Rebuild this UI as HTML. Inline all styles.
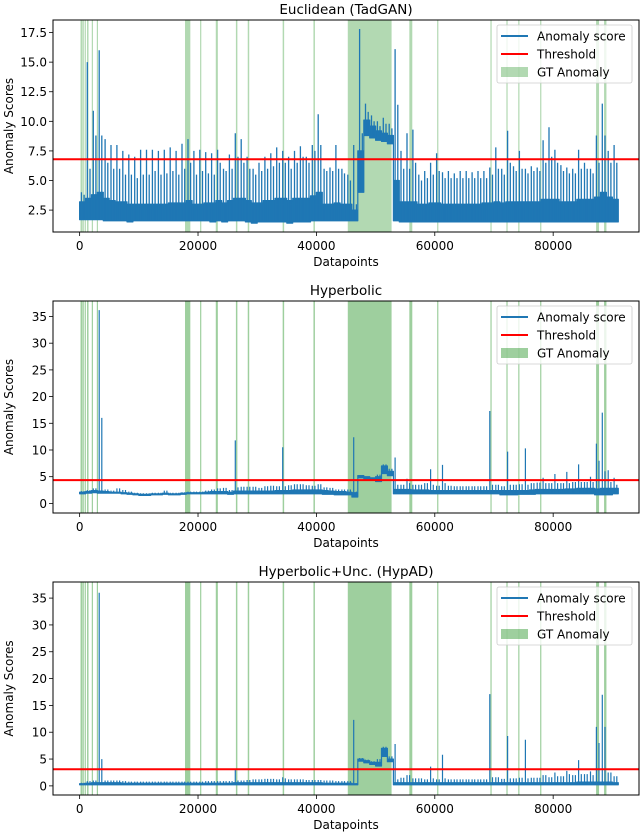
<!DOCTYPE html>
<html><head><meta charset="utf-8">
<style>
html,body{margin:0;padding:0;background:#fff;}
svg{display:block;font-family:"DejaVu Sans","Liberation Sans",sans-serif;}
</style></head>
<body>
<svg id="fig" width="640" height="833" viewBox="0 0 640 833" xmlns="http://www.w3.org/2000/svg"></svg>
<script>
// ---------- data ----------
const gtSpans = [[150,450],[500,700],[850,1050],[1250,1500],[2050,2250],[2900,3100],[17800,18700],[20350,20550],[23000,23350],[26400,26650],[28400,28650],[34300,34550],[39500,39750],[45300,52700],[55700,56200],[60400,60600],[69400,69600],[72100,72300],[74100,74300],[77800,78000],[87250,87750],[88600,89000]];
const thresholds = [6.8, 4.36, 3.1];
const titles = ["Euclidean (TadGAN)", "Hyperbolic", "Hyperbolic+Unc. (HypAD)"];
const yTicks1 = [2.5,5.0,7.5,10.0,12.5,15.0,17.5];
const yTicks23 = [0,5,10,15,20,25,30,35];
const xTicks = [0,20000,40000,60000,80000];
// per-1000-datapoint bins (91 bins): lo, dense-band top, secondary peak, main peak
const p1Hi = [4,15,10.9,16,8.5,8,8,7.5,7.2,7,7.6,7.6,7.6,7.5,7.6,7.8,7.5,8.1,8.5,7.5,7.6,7.4,7.3,7.6,6,7.2,9,8.5,7,6,6.5,7,7.3,7.8,7.5,7,7.5,7.9,7,8,10.6,6,6.1,8,6,5.5,8,17.8,11.5,10.5,10,10.3,9.8,16.1,7.5,9,9.3,5.5,5.8,6.5,7.3,5.7,5.8,5.6,5.8,5.8,5.7,5.8,5.8,6.1,7.8,6,9.2,6.2,7.5,6,6.2,6.1,8.4,9.5,7.6,6.3,6.1,6,7.6,6.5,6,8.8,11.5,7.5,8];
const p1Sub = [3.8,6,8.8,8.8,6.5,6,6,5.5,5.5,5.2,5.5,5.5,5.8,5.5,5.6,5.8,5.5,6,6.5,5.5,5.8,5.6,5.5,6.5,5.8,6,7,6.5,6,5.5,5.8,6,6.2,6.5,6.5,6,6.5,7,6.5,7.5,8,5.8,5.8,6,5.6,5,3,9,10.8,10,9.6,9.8,9.4,11.4,6,6,6.5,5,5.2,5.5,5.8,5.2,5.2,5.2,5.2,5.2,5.2,5.2,5.2,5.5,6,5.5,6.5,5.8,6,5.6,5.8,5.8,6.5,7,6.5,5.8,5.6,5.6,6,6,5.6,6.5,8.8,6.5,6.5];
const p1Mid = [3.2,3.5,3.8,4,3.5,3.3,3.2,3.2,3,3,3,3,3,3,3,3.1,3.1,3.1,3.3,3,3,3.1,3.1,3.3,3.1,3.3,3.5,3.5,3.3,3.1,3.1,3.3,3.3,3.5,3.5,3.3,3.5,3.5,3.5,3.7,4,3,3,3.1,3,3,2.5,7.5,10.1,9.6,9.2,9,8.8,5,3.2,3.2,3.2,3,3,3.1,3.1,3,3,3,3,3,3,3,3.1,3.1,3.2,3.1,3.2,3.2,3.2,3.2,3.2,3.2,3.4,3.4,3.4,3.2,3.2,3.2,3.4,3.4,3.4,3.6,4,3.6,3.4];
const p1Lo = [1.7,1.7,1.7,1.7,1.6,1.6,1.6,1.6,1.5,1.6,1.6,1.6,1.6,1.6,1.6,1.6,1.6,1.6,1.6,1.6,1.6,1.6,1.5,1.6,1.5,1.6,1.6,1.6,1.5,1.4,1.5,1.5,1.5,1.5,1.5,1.4,1.5,1.5,1.5,1.6,1.6,1.6,1.6,1.6,1.6,1.6,1.6,4,8.8,8.6,8.4,8.3,8.1,1.6,1.5,1.5,1.5,1.5,1.5,1.5,1.5,1.5,1.5,1.5,1.5,1.5,1.5,1.5,1.5,1.5,1.5,1.5,1.5,1.5,1.5,1.5,1.5,1.5,1.5,1.5,1.5,1.5,1.5,1.5,1.5,1.5,1.5,1.5,1.5,1.5,1.5];
const p2Lo = [1.8,1.9,2,1.9,1.9,1.9,1.9,1.8,1.7,1.6,1.5,1.5,1.6,1.6,1.7,1.6,1.6,1.7,1.8,1.8,1.8,1.8,1.8,1.8,1.8,1.7,1.8,1.8,1.8,1.8,1.8,1.8,1.8,1.8,1.8,1.8,1.8,1.8,1.8,1.8,1.8,1.7,1.7,1.6,1.6,1.6,1.2,4.8,4.6,4.4,4.1,5.6,5.2,1.8,1.8,1.8,1.8,1.8,1.8,1.8,1.8,1.8,1.8,1.8,1.8,1.8,1.8,1.8,1.8,1.8,1.8,1.6,1.6,1.6,1.7,1.7,1.7,1.8,1.8,1.8,1.8,1.8,1.8,1.8,1.8,1.8,1.8,1.6,1.6,1.6,1.8];
const p2Mid = [2.1,2.2,2.4,2.3,2.2,2.1,2.1,2,1.9,1.8,1.7,1.7,1.8,1.8,1.9,1.8,1.8,1.9,2,2,2,2.1,2.2,2.2,2.2,2.1,2.3,2.3,2.3,2.3,2.3,2.3,2.3,2.4,2.4,2.4,2.5,2.5,2.5,2.5,2.5,2.4,2.3,2.2,2.2,2.1,2,5.2,5,4.8,5,7,6,2.6,2.6,2.6,2.5,2.5,2.5,2.4,2.4,2.4,2.4,2.4,2.4,2.4,2.4,2.4,2.4,2.4,2.4,2.4,2.4,2.4,2.4,2.4,2.5,2.6,2.6,2.6,2.6,2.6,2.7,2.7,2.8,2.8,2.8,2.7,2.8,2.8,2.8];
const p2Sub = [2.3,2.5,2.8,16,2.6,2.4,2.8,2.5,2.2,2,1.9,1.9,2,2,2.4,2,2,2.1,2.2,2.2,2.2,2.4,2.6,2.8,2.9,2.5,3,3.1,3.1,3.1,2.9,3.2,3.3,3.2,3.2,3.4,3.6,3.6,3.4,3.3,3.6,3,2.9,2.6,2.6,2.6,2.2,5.3,5,4.8,5.4,7.3,6.5,3.5,3.5,3.8,3.5,3.5,3.8,3.5,3.3,3.8,3.3,3.2,3.2,3.2,3.2,3.2,3.2,3.5,3.5,3.2,3.5,3.5,3.6,3.5,3.8,3.9,3.8,3.8,3.8,3.8,3.8,4,4,4,4,8,6,4,3.5];
const p2Hi = [2.3,2.5,2.8,36.2,2.6,2.4,2.8,2.5,2.2,2,1.9,1.9,2,2,2.4,2,2,2.1,2.2,2.2,2.2,2.4,2.6,2.8,2.9,2.5,11.8,3.1,3.1,3.1,2.9,3.2,3.3,3.2,10.5,3.4,3.6,3.6,3.4,3.3,3.6,3,2.9,2.6,2.6,2.6,12.4,5.3,5,4.8,5.4,7.3,6.5,8.6,3.5,4.6,3.5,3.5,3.8,6.4,3.3,7.2,3.3,3.2,3.2,3.2,3.2,3.2,3.2,17.3,3.5,3.2,9.7,3.5,3.6,10.3,3.8,3.9,4.8,3.8,5.5,3.8,5.9,4,7.3,4,5,11.2,17,6.2,4.8];
const p3Lo = [0.2,0.2,0.2,0.2,0.2,0.2,0.2,0.2,0.2,0.2,0.2,0.2,0.2,0.2,0.2,0.2,0.2,0.2,0.2,0.2,0.2,0.2,0.2,0.2,0.2,0.2,0.2,0.2,0.2,0.2,0.2,0.2,0.2,0.2,0.2,0.2,0.2,0.2,0.2,0.2,0.2,0.2,0.2,0.2,0.2,0.2,0.2,4.6,4.3,4,3.7,5.5,4.5,0.2,0.2,0.2,0.2,0.2,0.2,0.2,0.2,0.2,0.2,0.2,0.2,0.2,0.2,0.2,0.2,0.2,0.2,0.2,0.2,0.2,0.2,0.2,0.2,0.2,0.2,0.2,0.2,0.2,0.2,0.2,0.2,0.2,0.2,0.2,0.2,0.2,0.2];
const p3Mid = [0.4,0.5,0.6,0.6,0.6,0.6,0.6,0.5,0.5,0.5,0.5,0.5,0.5,0.5,0.5,0.5,0.5,0.5,0.5,0.5,0.5,0.5,0.5,0.5,0.5,0.5,0.6,0.6,0.6,0.6,0.6,0.6,0.6,0.6,0.6,0.6,0.6,0.6,0.6,0.6,0.6,0.5,0.5,0.5,0.5,0.5,0.4,5,4.7,4.4,4.4,7,5,0.6,0.6,0.6,0.6,0.6,0.6,0.6,0.6,0.6,0.6,0.6,0.6,0.6,0.6,0.6,0.6,0.6,0.6,0.6,0.6,0.6,0.6,0.6,0.6,0.6,0.6,0.6,0.6,0.6,0.6,0.6,0.7,0.7,0.7,0.7,0.7,0.7,0.6];
const p3Sub = [0.6,0.9,1,5,1,1,1,0.9,0.8,0.8,0.8,0.8,0.8,0.8,0.8,0.8,0.8,0.8,0.8,0.8,0.8,0.9,0.9,0.9,0.9,0.9,1,1,1.1,1.2,1.2,1.3,1.3,1.2,1.4,1.2,1.2,1.2,1.1,1.1,1.1,1,1,0.9,0.9,0.9,0.5,5.2,4.9,4.6,5,7.3,5.5,1.2,1.5,2,1.4,1.4,1.2,1.4,1.2,1.4,1.2,1.2,1.2,1.2,1.2,1.2,1.2,1.6,1.6,1.3,1.4,1.4,1.5,1.4,1.5,1.5,2,1.6,1.8,1.8,2.2,2,2.2,2.2,2,8,11,2.5,1.8];
const p3Hi = [0.6,0.9,1,36,1,1,1,0.9,0.8,0.8,0.8,0.8,0.8,0.8,0.8,0.8,0.8,0.8,0.8,0.8,0.8,0.9,0.9,0.9,0.9,0.9,3,1,1.1,1.2,1.2,1.3,1.3,1.2,1.6,1.2,1.2,1.2,1.1,1.1,1.1,1,1,0.9,0.9,0.9,12.3,5.2,4.9,4.6,5,7.3,5.5,7.8,1.5,2,1.4,1.4,1.2,3.6,1.2,5.8,1.2,1.2,1.2,1.2,1.2,1.2,1.2,17.1,1.6,1.3,9.3,1.4,1.5,8.6,1.5,1.5,2,1.6,2.5,1.8,2.8,2,4.8,2.2,2.7,11,17,2.5,1.8];

// ---------- drawing ----------
const NS = "http://www.w3.org/2000/svg";
const fig = document.getElementById("fig");
function mk(tag, attrs, parent, text){
  const e = document.createElementNS(NS, tag);
  for (const k in attrs) e.setAttribute(k, attrs[k]);
  if (text !== undefined) e.textContent = text;
  (parent || fig).appendChild(e);
  return e;
}
const L = 53, R = 639;
const X0 = -4500, X1 = 94500;
const xs = v => L + (v - X0) / (X1 - X0) * (R - L);

const panels = [
  {top:20, bottom:232, ymin:0.65, ymax:18.56, ticks:yTicks1, fmt:v=>v.toFixed(1), lo:p1Lo, mid:p1Mid, sub:p1Sub, hi:p1Hi, span:0.3, dense:true},
  {top:301, bottom:513, ymin:-1.8, ymax:37.9, ticks:yTicks23, fmt:v=>String(v), lo:p2Lo, mid:p2Mid, sub:p2Sub, hi:p2Hi, span:0.38, dense:false},
  {top:582, bottom:795, ymin:-1.7, ymax:38.0, ticks:yTicks23, fmt:v=>String(v), lo:p3Lo, mid:p3Mid, sub:p3Sub, hi:p3Hi, span:0.38, dense:false}
];

panels.forEach((p, pi) => {
  const ys = v => p.bottom - (v - p.ymin) / (p.ymax - p.ymin) * (p.bottom - p.top);
  const g = mk("g", {});
  
  
  const t = mk("text", {x:(L+R)/2, y:p.top-6, "text-anchor":"middle", "font-size":"13.5", fill:"#000"}, g, titles[pi]);
  
  
  const clipId = "clip" + pi;
  const cp = mk("clipPath", {id:clipId}, g);
  mk("rect", {x:L, y:p.top, width:R-L, height:p.bottom-p.top}, cp);
  const plot = mk("g", {"clip-path":"url(#"+clipId+")"}, g);
  gtSpans.forEach(s => {
    const r = mk("rect", {x:xs(s[0]), y:p.top, width:Math.max(1.2, xs(s[1])-xs(s[0])), height:p.bottom-p.top, fill:"#008000", "fill-opacity":p.span}, plot);
    
    
  });
  const binW = xs(1000) - xs(0);
  const band = mk("g", {}, plot);
  
  
  // continuous band (lo..mid) as a polygon
  let up = [], dn = [];
  p.lo.forEach((lo, i) => {
    const x0 = xs(i*1000), x1 = xs(i*1000) + binW;
    up.push(x0.toFixed(1)+","+ys(p.mid[i]).toFixed(1), x1.toFixed(1)+","+ys(p.mid[i]).toFixed(1));
    dn.unshift(x1.toFixed(1)+","+ys(lo).toFixed(1), x0.toFixed(1)+","+ys(lo).toFixed(1));
  });
  const poly = mk("polygon", {points:up.concat(dn).join(" "), fill:"#1f77b4", stroke:"#1f77b4", "stroke-width":1.2, "stroke-linejoin":"round"}, band);
  
  
  // peaks
  let d = "";
  p.lo.forEach((lo, i) => {
    const x = xs(i*1000) + binW*0.3;
    d += "M" + x.toFixed(1) + "," + ys(lo).toFixed(1) + "L" + x.toFixed(1) + "," + ys(p.hi[i]).toFixed(1);
    const x2 = xs(i*1000) + binW*0.75;
    d += "M" + x2.toFixed(1) + "," + ys(lo).toFixed(1) + "L" + x2.toFixed(1) + "," + ys(p.sub[i]).toFixed(1);
  });
  const sp = mk("path", {d:d, stroke:"#1f77b4", "stroke-width":p.dense?1.3:1.2, fill:"none"}, band);
  
  
  const th = mk("line", {x1:L, x2:R, y1:ys(thresholds[pi]), y2:ys(thresholds[pi]), stroke:"#ff0000", "stroke-width":2}, plot);
  
  
  const fr = mk("rect", {x:L, y:p.top, width:R-L, height:p.bottom-p.top, fill:"none", stroke:"#000", "stroke-width":1}, g);
  
  
  p.ticks.forEach(v => {
    const y = ys(v);
    mk("line", {x1:L-4, x2:L, y1:y, y2:y, stroke:"#000", "stroke-width":0.8}, g);
    const tl = mk("text", {x:L-6, y:y+4.5, "text-anchor":"end", "font-size":"12", fill:"#000"}, g, p.fmt(v));
    
    
  });
  xTicks.forEach(v => {
    const x = xs(v);
    mk("line", {x1:x, x2:x, y1:p.bottom, y2:p.bottom+4, stroke:"#000", "stroke-width":0.8}, g);
    const tl = mk("text", {x:x, y:p.bottom+18, "text-anchor":"middle", "font-size":"12", fill:"#000"}, g, String(v));
    
    
  });
  const xt = mk("text", {x:(L+R)/2, y:p.bottom+34, "text-anchor":"middle", "font-size":"12", fill:"#000"}, g, "Datapoints");
  
  
  const cy = (p.top+p.bottom)/2;
  const yt = mk("text", {x:0, y:0, transform:"translate(13,"+cy+") rotate(-90)", "text-anchor":"middle", "font-size":"12", fill:"#000"}, g, "Anomaly Scores");
  
  
  const lg = mk("g", {}, g);
  
  
  const lx = 497, ly = p.top + 5;
  mk("rect", {x:lx, y:ly, width:135, height:58, rx:2, fill:"#fff", "fill-opacity":0.8, stroke:"#ccc", "stroke-width":0.8}, lg);
  const entries = [["Anomaly score","line","#1f77b4"],["Threshold","line","#ff0000"],["GT Anomaly","rect","#008000"]];
  entries.forEach((e, i) => {
    const y = ly + 11 + i*18;
    if (e[1] === "line") mk("line", {x1:lx+4, x2:lx+31, y1:y, y2:y, stroke:e[2], "stroke-width":2}, lg);
    else mk("rect", {x:lx+4, y:y-5, width:27, height:10, fill:e[2], "fill-opacity":p.span}, lg);
    const et = mk("text", {x:lx+40, y:y+4.5, "font-size":"12", fill:"#000"}, lg, e[0]);
    
    
  });
});
</script>
</body></html>
